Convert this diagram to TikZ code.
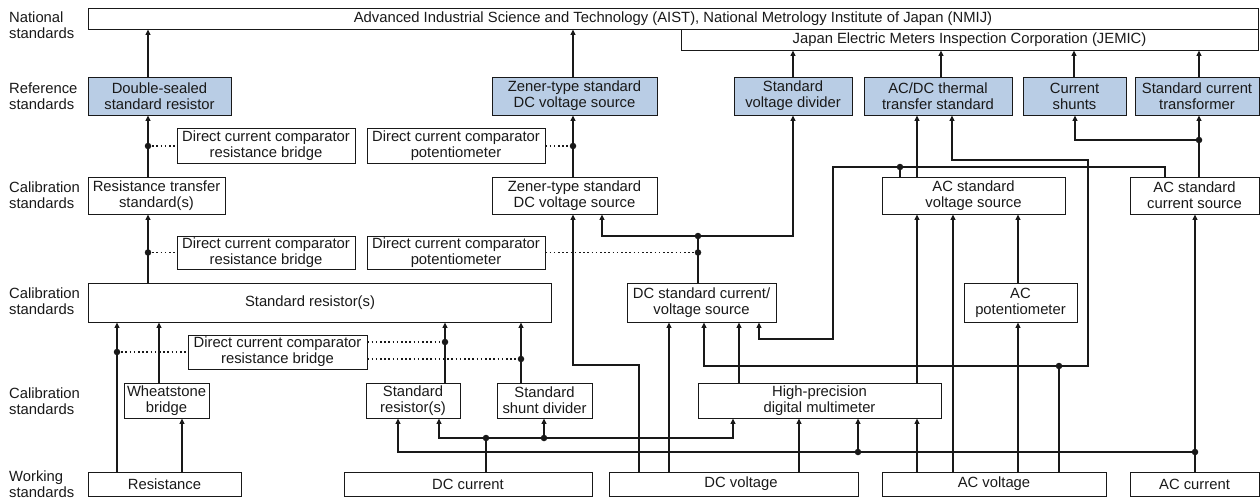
\documentclass[tikz,border=0pt]{standalone}
\usepackage{fontspec}
\setmainfont{Liberation Sans}
\usetikzlibrary{arrows.meta}
\definecolor{blu}{RGB}{185,205,229}
\definecolor{ink}{RGB}{25,25,25}
\begin{document}
\begin{tikzpicture}[x=1pt,y=-1pt,
  font=\fontsize{14.8}{16}\selectfont,
  box/.style={draw=ink, line width=0.9pt, inner sep=0pt, align=center, text=ink},
  bbox/.style={box, fill=blu},
  ln/.style={line width=1.3pt, draw=ink},
  arr/.style={ln, -{Triangle[length=5.5pt,width=5pt]}},
  dt/.style={line width=1.6pt, draw=ink, dash pattern=on 1.6pt off 2.6pt},
  jn/.style={circle, fill=ink, inner sep=0pt, minimum size=6.5pt},
  lbl/.style={anchor=west, align=left, inner sep=0pt, text=ink}]
\useasboundingbox (0,0) rectangle (1260,499);

% level labels
\node[lbl] (l1) at (9,25) {National\\standards};
\node[lbl] (l2) at (9,96) {Reference\\standards};
\node[lbl] (l3) at (9,195) {Calibration\\standards};
\node[lbl] (l4) at (9,301) {Calibration\\standards};
\node[lbl] (l5) at (9,401) {Calibration\\standards};
\node[lbl] (l6) at (9,484) {Working\\standards};

% national
\node[box, minimum width=1170pt, minimum height=21pt] (aist) at (673,18.5) {Advanced Industrial Science and Technology (AIST), National Metrology Institute of Japan (NMIJ)};
\node[box, minimum width=577pt, minimum height=21pt] (jemic) at (969.5,39.5) {Japan Electric Meters Inspection Corporation (JEMIC)};

% reference
\node[bbox, minimum width=143pt, minimum height=38pt] (dsr) at (159.5,96) {Double-sealed\\standard resistor};
\node[bbox, minimum width=165pt, minimum height=38pt] (zb) at (574.5,96) {Zener-type standard\\DC voltage source};
\node[bbox, minimum width=118pt, minimum height=38pt] (svd) at (793,96) {Standard\\voltage divider};
\node[bbox, minimum width=148pt, minimum height=38pt] (acdc) at (938,96) {AC/DC thermal\\transfer standard};
\node[bbox, minimum width=103pt, minimum height=38pt] (cs) at (1074.5,96) {Current\\shunts};
\node[bbox, minimum width=124pt, minimum height=38pt] (sct) at (1197,96) {Standard current\\transformer};

% comparators row 1
\node[box, minimum width=178pt, minimum height=35pt] (dccb1) at (266,145.5) {Direct current comparator\\resistance bridge};
\node[box, minimum width=178pt, minimum height=35pt] (dccp1) at (456,145.5) {Direct current comparator\\potentiometer};

% calibration row 1
\node[box, minimum width=137pt, minimum height=37pt] (rts) at (156.5,195.5) {Resistance transfer\\standard(s)};
\node[box, minimum width=165pt, minimum height=37pt] (zc) at (574.5,195.5) {Zener-type standard\\DC voltage source};
\node[box, minimum width=183pt, minimum height=37pt] (acvs) at (973.5,195.5) {AC standard\\voltage source};
\node[box, minimum width=129pt, minimum height=37pt] (accs) at (1194.5,195.5) {AC standard\\current source};

% comparators row 2
\node[box, minimum width=178pt, minimum height=33pt] (dccb2) at (266,252.5) {Direct current comparator\\resistance bridge};
\node[box, minimum width=178pt, minimum height=33pt] (dccp2) at (456,252.5) {Direct current comparator\\potentiometer};

% calibration row 2
\node[box, minimum width=463pt, minimum height=39pt] (srb) at (319.5,302.5) {\hspace*{-19pt}Standard resistor(s)};
\node[box, minimum width=149pt, minimum height=39pt] (dcs) at (701.5,302.5) {DC standard current/\\voltage source};
\node[box, minimum width=113pt, minimum height=39pt] (acp) at (1020.5,302.5) {AC\\potentiometer};

% comparator row 3
\node[box, minimum width=179pt, minimum height=34pt] (dccb3) at (277.5,352) {Direct current comparator\\resistance bridge};

% calibration row 3
\node[box, minimum width=85pt, minimum height=35pt] (wb) at (166.5,400.5) {Wheatstone\\bridge};
\node[box, minimum width=94pt, minimum height=35pt] (srs) at (413,400.5) {Standard\\resistor(s)};
\node[box, minimum width=95pt, minimum height=35pt] (ssd) at (544.5,400.5) {Standard\\shunt divider};
\node[box, minimum width=243pt, minimum height=35pt] (hp) at (819.5,400.5) {High-precision\\digital multimeter};

% working
\node[box, minimum width=153pt, minimum height=24pt] (res) at (164.5,484) {Resistance};
\node[box, minimum width=248pt, minimum height=24pt] (dcc) at (468,484) {DC current};
\node[box, minimum width=249pt, minimum height=24pt] (dcv) at (733.5,484) {\hspace*{15pt}DC voltage};
\node[box, minimum width=224pt, minimum height=24pt] (acv) at (994,484) {AC voltage};
\node[box, minimum width=129pt, minimum height=24pt] (acc) at (1194.5,484) {AC current};

% junction dots
\node[jn] (j1) at (148,146) {};
\node[jn] (j2) at (573,146) {};
\node[jn] (j3) at (148,252.5) {};
\node[jn] (j4) at (698,252.5) {};
\node[jn] (j5) at (698,236) {};
\node[jn] (j6) at (1059,366) {};
\node[jn] (j7) at (900,167) {};
\node[jn] (j8) at (1199,140) {};
\node[jn] (j9) at (1195,452) {};
\node[jn] (j10) at (858,452) {};
\node[jn] (j11) at (486,438) {};
\node[jn] (j12) at (544,438) {};
\node[jn] (j13) at (445,342) {};
\node[jn] (j14) at (521,359) {};
\node[jn] (j15) at (117,352) {};

% to national standards
\draw[arr] (148,0 |- dsr.north) -- (148,0 |- aist.south);
\draw[arr] (573,0 |- zb.north) -- (573,0 |- aist.south);
\draw[arr] (793,0 |- svd.north) -- (793,0 |- jemic.south);
\draw[arr] (941,0 |- acdc.north) -- (941,0 |- jemic.south);
\draw[arr] (1074,0 |- cs.north) -- (1074,0 |- jemic.south);
\draw[arr] (1199,0 |- sct.north) -- (1199,0 |- jemic.south);

% resistance chain
\draw[arr] (148,0 |- rts.north) -- (148,0 |- dsr.south);
\draw[dt] (j1.center) -- (dccb1.west |- j1.center);
\draw[arr] (148,0 |- srb.north) -- (148,0 |- rts.south);
\draw[dt] (j3.center) -- (dccb2.west |- j3.center);

% zener chain
\draw[arr] (573,0 |- zc.north) -- (573,0 |- zb.south);
\draw[dt] (dccp1.east |- j2.center) -- (j2.center);
\draw[dt] (dccp2.east |- j4.center) -- (j4.center);
\draw[ln] (698,0 |- dcs.north) -- (j5.center);
\draw[arr] (j5.center) -| (602,0 |- zc.south);
\draw[arr] (j5.center) -| (793,0 |- svd.south);
\draw[arr] (639,0 |- dcv.north) |- (573,365) -- (573,0 |- zc.south);

% DC standard source inputs
\draw[arr] (669,0 |- dcv.north) -- (669,0 |- dcs.south);
\draw[arr] (739,0 |- hp.north) -- (739,0 |- dcs.south);
\draw[ln] (1059,0 |- acv.north) -- (j6.center);
\draw[arr] (j6.center) -| (704,0 |- dcs.south);
\draw[arr] (j6.center) -- (1088,366) |- (952,160) -- (952,0 |- acdc.south);
\draw[ln] (900,0 |- acvs.north) -- (j7.center);
\draw[arr] (1165,0 |- accs.north) |- (833,167) |- (759,339) -- (759,0 |- dcs.south);

% AC voltage source
\draw[arr] (917,0 |- acvs.north) -- (917,0 |- acdc.south);
\draw[arr] (917,0 |- hp.north) -- (917,0 |- acvs.south);
\draw[arr] (953,0 |- acv.north) -- (953,0 |- acvs.south);
\draw[arr] (1018,0 |- acp.north) -- (1018,0 |- acvs.south);
\draw[arr] (1018,0 |- acv.north) -- (1018,0 |- acp.south);

% AC current source
\draw[ln] (1199,0 |- accs.north) -- (j8.center);
\draw[arr] (j8.center) -- (1199,0 |- sct.south);
\draw[arr] (j8.center) -| (1075,0 |- cs.south);
\draw[arr] (1195,0 |- acc.north) -- (1195,0 |- accs.south);
\draw[arr] (j9.center) -| (398,0 |- srs.south);
\draw[arr] (j10.center) -- (858,0 |- hp.south);

% DC current
\draw[ln] (486,0 |- dcc.north) -- (j11.center);
\draw[arr] (j11.center) -| (439,0 |- srs.south);
\draw[arr] (j11.center) -| (733,0 |- hp.south);
\draw[arr] (j12.center) -- (544,0 |- ssd.south);

% multimeter inputs
\draw[arr] (799,0 |- dcv.north) -- (799,0 |- hp.south);
\draw[arr] (917,0 |- acv.north) -- (917,0 |- hp.south);

% standard resistor(s) inputs
\draw[arr] (445,0 |- srs.north) -- (445,0 |- srb.south);
\draw[arr] (521,0 |- ssd.north) -- (521,0 |- srb.south);
\draw[dt] (dccb3.east |- j13.center) -- (j13.center);
\draw[dt] (dccb3.east |- j14.center) -- (j14.center);
\draw[arr] (117,0 |- res.north) -- (117,0 |- srb.south);
\draw[dt] (j15.center) -- (dccb3.west |- j15.center);
\draw[arr] (159,0 |- wb.north) -- (159,0 |- srb.south);
\draw[arr] (182,0 |- res.north) -- (182,0 |- wb.south);
\end{tikzpicture}
\end{document}
